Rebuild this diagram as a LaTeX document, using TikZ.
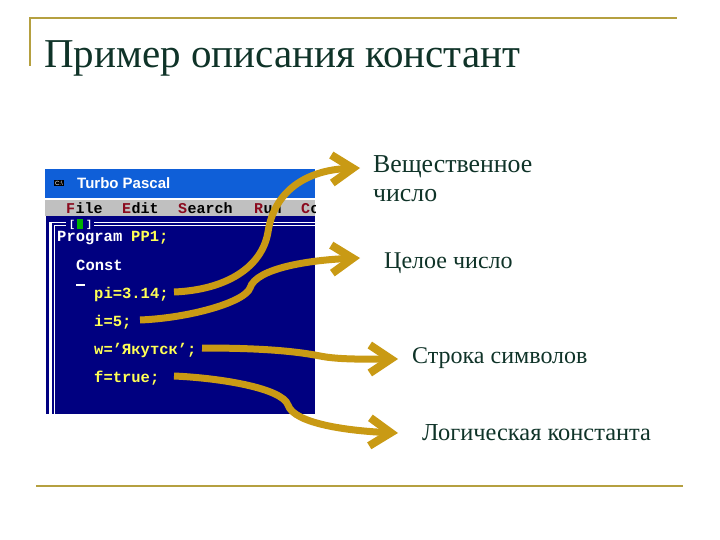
\documentclass[tikz,border=0pt]{standalone}
\usepackage{fontspec}
\usetikzlibrary{arrows.meta}
\setmainfont{Liberation Serif}
\newfontfamily\codefont{Liberation Mono}[BoldFont={Liberation Mono Bold}]
\newfontfamily\uifont{Liberation Sans}
\definecolor{gold}{HTML}{C99A14}
\definecolor{rulegold}{HTML}{B5A040}
\definecolor{inkgreen}{HTML}{0F3328}
\definecolor{navy}{HTML}{000080}
\definecolor{titleblue}{HTML}{0F5FD8}
\definecolor{menugrey}{HTML}{C0C0C0}
\definecolor{menured}{HTML}{8A0A1E}
\definecolor{codeyellow}{HTML}{FFFF55}
\tikzset{
 x=1pt,y=-1pt,
 rulestyle/.style={draw=rulegold,line width=2pt},
 titletext/.style={font=\fontsize{41}{41}\selectfont,text=inkgreen,anchor=base west,inner sep=0pt},
 labeltext/.style={font=\fontsize{24}{29}\selectfont,text=inkgreen,anchor=base west,inner sep=0pt,align=left},
 codewhite/.style={font=\codefont\bfseries\fontsize{15.5}{15.5}\selectfont,text=white,anchor=base west,inner sep=0pt},
 codeyel/.style={codewhite,text=codeyellow},
 menutext/.style={codewhite,text=black,font=\codefont\bfseries\fontsize{15}{15}\selectfont},
 menukey/.style={menutext,text=menured},
 markertext/.style={codewhite,font=\codefont\bfseries\fontsize{10}{10}\selectfont},
 pointer/.style={draw=gold,line width=7pt,-{Straight Barb[length=21pt,width=28pt,line width=8pt]}},
}
\begin{document}
\begin{tikzpicture}
\useasboundingbox (0,0) rectangle (720,540);
% title
\draw[rulestyle] (30,66) -- (30,18) -- (677,18);
\node[titletext] (title) at (44,68) {Пример описания констант};
\draw[rulestyle] (36,486) -- (683,486);
% window
\fill[titleblue] (45,169) rectangle (315,198);
\fill[white] (45,198) rectangle (315,200);
\fill[menugrey] (45,200) rectangle (315,216);
\fill[navy] (45,216) rectangle (315,414);
\fill[white] (45,216) rectangle (46,414);
\fill[white] (49,222) rectangle (52,414);
\fill[white] (54,226) rectangle (55,414);
\fill[white] (49,222) rectangle (315,223);
\fill[white] (54,225) rectangle (315,226);
\fill[navy] (66,218) rectangle (94,230);
\node[font=\uifont\fontsize{6}{6}\selectfont,text=white,fill=black,inner sep=1pt] (icon) at (59,183) {C:\textbackslash};
\node[font=\uifont\bfseries\fontsize{15}{15}\selectfont,text=white,anchor=base west,inner sep=0pt] (wintitle) at (77,189) {Turbo Pascal};
% menu
\node[menukey] (m1) at (66,214) {F};
\node[menutext] (m1b) at (m1.base east) {ile};
\node[menukey] (m2) at (122,214) {E};
\node[menutext] (m2b) at (m2.base east) {dit};
\node[menukey] (m3) at (178,214) {S};
\node[menutext] (m3b) at (m3.base east) {earch};
\node[menukey] (m4) at (254,214) {R};
\node[menutext] (m4b) at (m4.base east) {un};
\begin{scope}
\clip (45,200) rectangle (315,216);
\node[menukey] (m5) at (301,214) {C};
\node[menutext] (m5b) at (m5.base east) {o};
\end{scope}
% frame marker
\node[markertext] (brl) at (69,227) {[};
\fill[green!70!black] (77,219) rectangle (83,229);
\node[markertext] (brr) at (86,227) {]};
% code
\node[codewhite] (prog) at (57,241) {Program};
\node[codeyel] (pp) at (131,241) {PP1;};
\node[codewhite] (const) at (76,270) {Const};
\fill[white] (76,284) rectangle (85,286);
\node[codeyel] (pi) at (94,298) {pi=3.14;};
\node[codeyel] (ci) at (94,326) {i=5;};
\node[codeyel] (cw) at (94,354) {w=’Якутск’;};
\node[codeyel] (cf) at (94,382) {f=true;};
% labels
\node[labeltext,font=\fontsize{25.8}{29}\selectfont] (lreal) at (373,202) {Вещественное\\число};
\node[labeltext] (lint) at (384,268) {Целое число};
\node[labeltext] (lstr) at (412,363) {Строка символов};
\node[labeltext,font=\fontsize{24.4}{29}\selectfont] (lbool) at (422,440) {Логическая константа};
% connectors
\coordinate (t1) at (360,168);
\coordinate (t2) at (360,258);
\coordinate (t3) at (398,359);
\coordinate (t4) at (398,433);
\coordinate (s1) at (174,292);
\coordinate (s2) at (140,320);
\coordinate (s3) at (202,348);
\coordinate (s4) at (174,376);
\draw[pointer] (s1) .. controls (225,290) and (262,268) .. (268,232) .. controls (274,192) and (305,170) .. (t1);
\draw[pointer] (s2) .. controls (190,318) and (245,302) .. (250,288) .. controls (256,268) and (310,260) .. (t2);
\draw[pointer] (s3) .. controls (250,348) and (290,350) .. (320,356) .. controls (340,360) and (370,359) .. (t3);
\draw[pointer] (s4) .. controls (220,378) and (282,388) .. (288,405) .. controls (294,424) and (350,431) .. (t4);
\end{tikzpicture}
\end{document}
